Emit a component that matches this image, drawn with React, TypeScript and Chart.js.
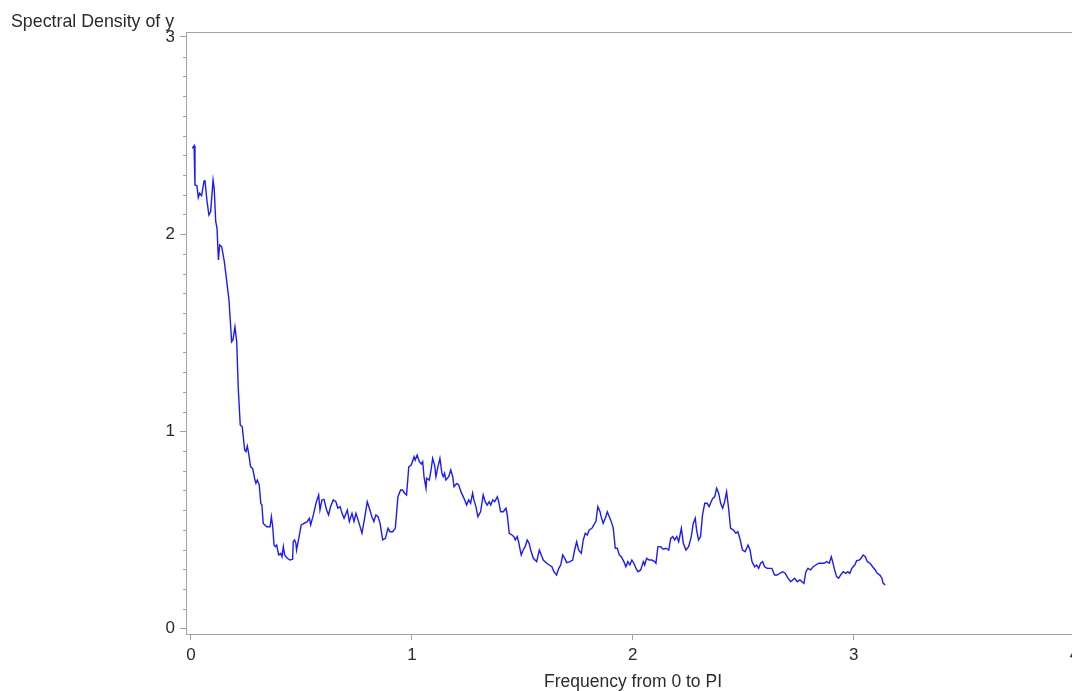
import React, { useEffect, useRef } from "react";
import { Chart, registerables } from "chart.js";

Chart.register(...registerables);

const Y_TITLE = "Spectral Density of y";
const X_TITLE = "Frequency from 0 to PI";
const X_TICKS = [0, 1, 2, 3, 4];
const Y_TICKS = [0, 1, 2, 3];
const Y_MINOR_STEP = 0.1;

const FREQ = [
  0.006, 0.014, 0.018, 0.027, 0.033, 0.039, 0.048, 0.059, 0.063, 0.072, 0.081, 0.089, 0.1, 0.105, 0.112, 0.118,
  0.124, 0.13, 0.139, 0.151, 0.162, 0.172, 0.184, 0.19, 0.199, 0.207, 0.214, 0.223, 0.232, 0.243, 0.249, 0.255,
  0.261, 0.27, 0.279, 0.288, 0.294, 0.3, 0.309, 0.316, 0.321, 0.327, 0.343, 0.358, 0.364, 0.37, 0.376, 0.382,
  0.388, 0.397, 0.406, 0.412, 0.418, 0.424, 0.436, 0.448, 0.46, 0.463, 0.469, 0.475, 0.478, 0.488, 0.499, 0.512,
  0.526, 0.536, 0.542, 0.554, 0.566, 0.578, 0.584, 0.593, 0.602, 0.614, 0.623, 0.632, 0.644, 0.656, 0.665, 0.675,
  0.684, 0.693, 0.708, 0.717, 0.729, 0.738, 0.747, 0.759, 0.774, 0.786, 0.798, 0.81, 0.819, 0.828, 0.837, 0.847,
  0.856, 0.868, 0.88, 0.892, 0.901, 0.913, 0.925, 0.937, 0.949, 0.958, 0.967, 0.976, 0.986, 0.997, 1.01, 1.015,
  1.024, 1.034, 1.043, 1.049, 1.055, 1.064, 1.067, 1.079, 1.088, 1.094, 1.103, 1.109, 1.118, 1.127, 1.136, 1.142,
  1.148, 1.154, 1.167, 1.176, 1.185, 1.191, 1.203, 1.212, 1.224, 1.236, 1.248, 1.257, 1.266, 1.275, 1.281, 1.29,
  1.299, 1.311, 1.323, 1.332, 1.341, 1.35, 1.357, 1.366, 1.375, 1.387, 1.393, 1.402, 1.414, 1.426, 1.432, 1.441,
  1.453, 1.462, 1.468, 1.477, 1.483, 1.495, 1.504, 1.513, 1.522, 1.531, 1.538, 1.55, 1.565, 1.577, 1.586, 1.595,
  1.61, 1.622, 1.634, 1.643, 1.655, 1.665, 1.674, 1.683, 1.692, 1.701, 1.716, 1.728, 1.737, 1.746, 1.755, 1.767,
  1.776, 1.785, 1.794, 1.803, 1.815, 1.824, 1.833, 1.842, 1.852, 1.857, 1.866, 1.876, 1.885, 1.894, 1.903, 1.912,
  1.921, 1.93, 1.939, 1.948, 1.96, 1.969, 1.978, 1.987, 1.996, 2.005, 2.015, 2.024, 2.036, 2.048, 2.054, 2.063,
  2.075, 2.087, 2.099, 2.105, 2.114, 2.126, 2.138, 2.15, 2.163, 2.172, 2.181, 2.19, 2.199, 2.208, 2.22, 2.229,
  2.241, 2.253, 2.265, 2.274, 2.283, 2.289, 2.298, 2.307, 2.316, 2.326, 2.337, 2.346, 2.355, 2.362, 2.371, 2.38,
  2.389, 2.398, 2.407, 2.416, 2.425, 2.434, 2.443, 2.455, 2.467, 2.476, 2.485, 2.497, 2.509, 2.522, 2.531, 2.54,
  2.552, 2.561, 2.57, 2.579, 2.588, 2.597, 2.609, 2.621, 2.63, 2.642, 2.654, 2.666, 2.679, 2.69, 2.703, 2.715,
  2.724, 2.733, 2.745, 2.757, 2.766, 2.775, 2.784, 2.793, 2.805, 2.817, 2.829, 2.842, 2.853, 2.866, 2.878, 2.89,
  2.899, 2.905, 2.914, 2.923, 2.932, 2.941, 2.953, 2.965, 2.974, 2.983, 2.992, 3.005, 3.014, 3.025, 3.034, 3.043,
  3.053, 3.062, 3.074, 3.086, 3.098, 3.107, 3.119, 3.128, 3.134, 3.143,
];

const DENSITY = [
  2.435, 2.448, 2.249, 2.245, 2.185, 2.207, 2.195, 2.269, 2.274, 2.173, 2.097, 2.114, 2.274, 2.232, 2.063, 2.029,
  1.869, 1.945, 1.936, 1.86, 1.759, 1.666, 1.454, 1.463, 1.53, 1.454, 1.218, 1.032, 1.023, 0.905, 0.897, 0.925,
  0.888, 0.82, 0.812, 0.762, 0.736, 0.753, 0.728, 0.635, 0.626, 0.533, 0.516, 0.516, 0.567, 0.516, 0.423, 0.415,
  0.423, 0.373, 0.381, 0.364, 0.415, 0.373, 0.356, 0.347, 0.351, 0.44, 0.449, 0.432, 0.398, 0.457, 0.525, 0.533,
  0.542, 0.559, 0.525, 0.576, 0.635, 0.677, 0.601, 0.652, 0.655, 0.601, 0.576, 0.618, 0.652, 0.643, 0.61, 0.618,
  0.584, 0.559, 0.601, 0.542, 0.584, 0.542, 0.584, 0.542, 0.483, 0.559, 0.643, 0.601, 0.567, 0.542, 0.576, 0.567,
  0.533, 0.449, 0.457, 0.508, 0.491, 0.491, 0.508, 0.668, 0.702, 0.702, 0.686, 0.677, 0.82, 0.829, 0.871, 0.854,
  0.88, 0.846, 0.834, 0.846, 0.77, 0.711, 0.762, 0.753, 0.812, 0.863, 0.829, 0.77, 0.82, 0.863, 0.787, 0.77,
  0.787, 0.753, 0.77, 0.804, 0.77, 0.719, 0.736, 0.728, 0.689, 0.66, 0.626, 0.652, 0.635, 0.686, 0.652, 0.618,
  0.567, 0.592, 0.677, 0.643, 0.626, 0.643, 0.626, 0.652, 0.643, 0.668, 0.643, 0.592, 0.592, 0.61, 0.576, 0.483,
  0.474, 0.466, 0.449, 0.466, 0.44, 0.373, 0.398, 0.415, 0.449, 0.432, 0.398, 0.356, 0.339, 0.398, 0.373, 0.347,
  0.331, 0.322, 0.313, 0.288, 0.271, 0.305, 0.322, 0.373, 0.356, 0.334, 0.339, 0.347, 0.398, 0.44, 0.398, 0.381,
  0.449, 0.483, 0.474, 0.5, 0.508, 0.525, 0.542, 0.618, 0.592, 0.567, 0.533, 0.559, 0.592, 0.567, 0.542, 0.508,
  0.407, 0.407, 0.373, 0.364, 0.339, 0.313, 0.339, 0.322, 0.347, 0.331, 0.305, 0.288, 0.297, 0.339, 0.322, 0.356,
  0.347, 0.347, 0.339, 0.331, 0.415, 0.415, 0.402, 0.407, 0.398, 0.457, 0.466, 0.449, 0.466, 0.44, 0.508, 0.432,
  0.398, 0.415, 0.466, 0.533, 0.559, 0.5, 0.449, 0.466, 0.576, 0.635, 0.635, 0.618, 0.643, 0.66, 0.668, 0.711,
  0.686, 0.635, 0.61, 0.643, 0.694, 0.61, 0.508, 0.5, 0.483, 0.491, 0.457, 0.398, 0.389, 0.423, 0.398, 0.339,
  0.313, 0.322, 0.305, 0.331, 0.339, 0.313, 0.305, 0.305, 0.305, 0.271, 0.271, 0.28, 0.288, 0.28, 0.255, 0.237,
  0.246, 0.255, 0.237, 0.246, 0.237, 0.229, 0.288, 0.305, 0.297, 0.313, 0.322, 0.331, 0.331, 0.331, 0.339, 0.331,
  0.364, 0.339, 0.297, 0.263, 0.255, 0.271, 0.288, 0.28, 0.288, 0.28, 0.305, 0.322, 0.344, 0.347, 0.356, 0.373,
  0.364, 0.339, 0.331, 0.313, 0.297, 0.28, 0.271, 0.255, 0.229, 0.221,
];

const FONT_FAMILY = "'Liberation Sans', Arial, Helvetica, sans-serif";
const TEXT_COLOR = "#2b2b2b";
const AXIS_COLOR = "#a3a3a3";
const LINE_COLOR = "#1a1aff";

const framePlugin = {
  id: "frameAndExtras",
  afterDraw(chart: any) {
    const { ctx, chartArea, scales } = chart;
    ctx.save();
    ctx.strokeStyle = AXIS_COLOR;
    ctx.lineWidth = 1;
    ctx.beginPath();
    ctx.moveTo(chartArea.left, Math.round(chartArea.top) + 0.5);
    ctx.lineTo(chartArea.right, Math.round(chartArea.top) + 0.5);
    ctx.lineTo(chartArea.right, chartArea.bottom);
    ctx.stroke();
    const y = scales.y;
    const x0 = Math.round(chartArea.left) + 0.5;
    ctx.beginPath();
    const maxTick = Y_TICKS[Y_TICKS.length - 1];
    for (let i = 0; i <= Math.round(maxTick / Y_MINOR_STEP); i++) {
      if (i % 10 === 0) continue;
      const py = Math.round(y.getPixelForValue(i * Y_MINOR_STEP)) + 0.5;
      ctx.moveTo(x0 - 3.5, py);
      ctx.lineTo(x0, py);
    }
    ctx.stroke();
    ctx.fillStyle = TEXT_COLOR;
    ctx.font = `17.8px ${FONT_FAMILY}`;
    ctx.textAlign = "left";
    ctx.textBaseline = "alphabetic";
    ctx.fillText(Y_TITLE, 11, 27);
    ctx.restore();
  },
};

export default function App() {
  const canvasRef = useRef<HTMLCanvasElement | null>(null);

  useEffect(() => {
    const canvas = canvasRef.current;
    if (!canvas) return;
    const data = FREQ.map((f, i) => ({ x: f, y: DENSITY[i] }));
    const chart = new Chart(canvas, {
      type: "line",
      data: {
        datasets: [
          {
            label: Y_TITLE,
            data,
            borderColor: LINE_COLOR,
            borderWidth: 1.4,
            pointRadius: 0,
            tension: 0,
            fill: false,
          },
        ],
      },
      options: {
        animation: false,
        responsive: false,
        devicePixelRatio: 1,
        layout: { padding: { top: 32, left: 0, right: 10, bottom: 0 } },
        plugins: {
          legend: { display: false },
          tooltip: { enabled: false },
          title: { display: false },
        },
        scales: {
          x: {
            type: "linear",
            min: -0.0226,
            max: 4.025,
            afterFit: (s: any) => {
              s.height = 57;
            },
            afterBuildTicks: (s: any) => {
              s.ticks = X_TICKS.map((v) => ({ value: v }));
            },
            ticks: {
              color: TEXT_COLOR,
              font: { family: FONT_FAMILY, size: 17 },
              padding: 5,
              maxRotation: 0,
              autoSkip: false,
              callback: (v: any) => String(v),
            },
            grid: { drawOnChartArea: false, drawTicks: true, tickLength: 6, color: AXIS_COLOR },
            border: { display: true, color: AXIS_COLOR, width: 1 },
            title: {
              display: true,
              text: X_TITLE,
              color: TEXT_COLOR,
              font: { family: FONT_FAMILY, size: 17.5, lineHeight: 1 },
              padding: { top: 0, bottom: 0 },
            },
          },
          y: {
            type: "linear",
            min: -0.0279,
            max: 3.025,
            afterFit: (s: any) => {
              s.width = 186;
            },
            afterBuildTicks: (s: any) => {
              s.ticks = Y_TICKS.map((v) => ({ value: v }));
            },
            ticks: {
              color: TEXT_COLOR,
              font: { family: FONT_FAMILY, size: 17 },
              padding: 5,
              autoSkip: false,
              callback: (v: any) => String(v),
            },
            grid: { drawOnChartArea: false, drawTicks: true, tickLength: 6, color: AXIS_COLOR },
            border: { display: true, color: AXIS_COLOR, width: 1 },
          },
        },
      },
      plugins: [framePlugin],
    });
    return () => chart.destroy();
  }, []);

  return (
    <div
      style={{
        position: "fixed",
        left: 0,
        top: 0,
        width: 1072,
        height: 691,
        overflow: "hidden",
        background: "#fff",
      }}
    >
      <canvas ref={canvasRef} width={1090} height={691} style={{ display: "block" }} />
    </div>
  );
}
